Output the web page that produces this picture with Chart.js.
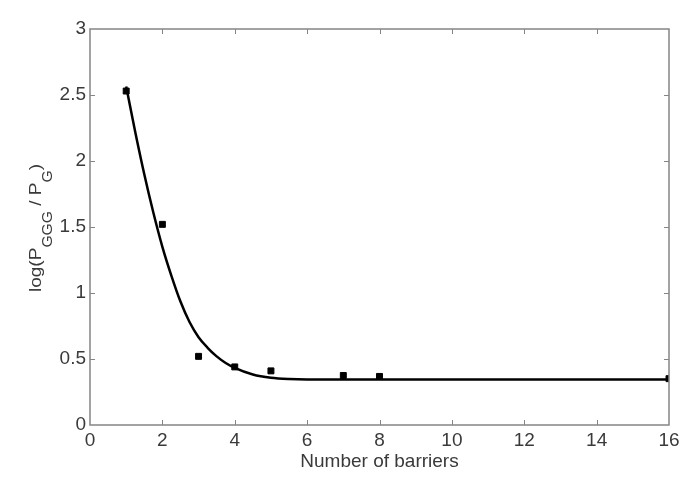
<!DOCTYPE html>
<html>
  <head>
    <script src="https://cdn.jsdelivr.net/npm/chart.js@4.4.1/dist/chart.umd.min.js"></script>
    <style>
      html, body { margin: 0; padding: 0; background: #ffffff; }
      .chart-container { width: 694px; height: 481px; }
    </style>
  </head>
  <body>
    <div class="chart-container">
      <canvas id="myChart" width="694" height="481"></canvas>
    </div>
    <script>
      // measured points (square markers)
      var barrierCounts = [1, 2, 3, 4, 5, 7, 8, 16];
      var measuredLog = [2.53, 1.52, 0.52, 0.44, 0.41, 0.375, 0.368, 0.351];

      // fitted curve
      var fitX = [1, 1.25, 1.5, 1.75, 2, 2.25, 2.5, 2.75, 3, 3.25, 3.5, 3.75, 4, 4.5, 5, 5.5, 6, 8, 10, 12, 14, 16];
      var fitY = [2.565, 2.22, 1.9, 1.61, 1.35, 1.13, 0.935, 0.78, 0.665, 0.585, 0.52, 0.47, 0.433, 0.383, 0.358, 0.348, 0.345, 0.345, 0.345, 0.345, 0.345, 0.345];

      // tick labels
      var xTicks = [0, 2, 4, 6, 8, 10, 12, 14, 16];
      var yTicks = [0, 0.5, 1, 1.5, 2, 2.5, 3];

      var axisColor = "#858585";
      var textColor = "#3a3a3a";
      var fontFamily = "'Liberation Sans', Arial, sans-serif";

      function toPoints(xs, ys) {
        var pts = [];
        for (var i = 0; i < xs.length; i++) pts.push({ x: xs[i], y: ys[i] });
        return pts;
      }

      // box around the plot + inward ticks + y label with subscripts
      var boxPlugin = {
        id: "boxPlugin",
        afterDraw: function (chart) {
          var ctx = chart.ctx;
          var a = chart.chartArea;
          var xs = chart.scales.x;
          var ys = chart.scales.y;
          ctx.save();
          ctx.strokeStyle = axisColor;
          ctx.lineWidth = 1.5;
          ctx.strokeRect(a.left, a.top, a.right - a.left, a.bottom - a.top);
          ctx.lineWidth = 1;
          var len = 5;
          ctx.beginPath();
          xTicks.forEach(function (v) {
            var px = Math.round(xs.getPixelForValue(v)) + 0.5;
            if (v === xTicks[0] || v === xTicks[xTicks.length - 1]) return;
            ctx.moveTo(px, a.bottom); ctx.lineTo(px, a.bottom - len);
            ctx.moveTo(px, a.top); ctx.lineTo(px, a.top + len);
          });
          yTicks.forEach(function (v) {
            var py = Math.round(ys.getPixelForValue(v)) + 0.5;
            if (v === yTicks[0] || v === yTicks[yTicks.length - 1]) return;
            ctx.moveTo(a.left, py); ctx.lineTo(a.left + len, py);
            ctx.moveTo(a.right, py); ctx.lineTo(a.right - len, py);
          });
          ctx.stroke();

          // y axis label: log(P_GGG / P_G)
          var parts = [
            { t: "log(P", sub: false },
            { t: "GGG", sub: true },
            { t: " / P", sub: false },
            { t: "G", sub: true },
            { t: ")", sub: false }
          ];
          var big = "17px " + fontFamily;
          var small = "14px " + fontFamily;
          var total = 0;
          parts.forEach(function (p) {
            ctx.font = p.sub ? small : big;
            p.w = ctx.measureText(p.t).width;
            total += p.w;
          });
          ctx.translate(36, (a.top + a.bottom) / 2 + 1);
          ctx.rotate(-Math.PI / 2);
          ctx.scale(1.12, 1);
          ctx.fillStyle = textColor;
          ctx.textBaseline = "alphabetic";
          ctx.textAlign = "left";
          var cx = -total / 2;
          parts.forEach(function (p) {
            ctx.font = p.sub ? small : big;
            ctx.fillText(p.t, cx, p.sub ? 16 : 5);
            cx += p.w;
          });
          ctx.restore();
        }
      };

      var ctx = document.getElementById("myChart").getContext("2d");
      var chart = new Chart(ctx, {
        type: "scatter",
        data: {
          datasets: [
            {
              label: "Fit",
              data: toPoints(fitX, fitY),
              showLine: true,
              borderColor: "#000000",
              borderWidth: 2.5,
              pointRadius: 0,
              cubicInterpolationMode: "monotone",
              fill: false,
              order: 2
            },
            {
              label: "Measured",
              data: toPoints(barrierCounts, measuredLog),
              showLine: false,
              pointStyle: "rect",
              pointRadius: 4.2,
              borderWidth: 1,
              borderColor: "#000000",
              backgroundColor: "#000000",
              order: 1
            }
          ]
        },
        options: {
          responsive: false,
          animation: false,
          layout: { padding: { left: 0, top: 29, right: 25, bottom: 8 } },
          plugins: {
            legend: { display: false },
            tooltip: { enabled: false }
          },
          scales: {
            x: {
              type: "linear",
              min: 0,
              max: 16,
              afterBuildTicks: function (s) {
                s.ticks = xTicks.map(function (v) { return { value: v }; });
              },
              afterFit: function (s) { s.height = 48; },
              grid: { display: false, drawTicks: false },
              border: { display: false },
              ticks: {
                color: textColor,
                font: { family: fontFamily, size: 19 },
                padding: 4,
                maxRotation: 0,
                autoSkip: false,
                callback: function (v) { return String(v); }
              },
              title: {
                display: true,
                text: "Number of barriers",
                color: textColor,
                font: { family: fontFamily, size: 19 },
                padding: { top: 0, bottom: 0 }
              }
            },
            y: {
              type: "linear",
              min: 0,
              max: 3,
              afterBuildTicks: function (s) {
                s.ticks = yTicks.map(function (v) { return { value: v }; });
              },
              afterFit: function (s) { s.width = 90; },
              grid: { display: false, drawTicks: false },
              border: { display: false },
              ticks: {
                color: textColor,
                font: { family: fontFamily, size: 19 },
                padding: 4,
                autoSkip: false,
                callback: function (v) { return String(v); }
              }
            }
          }
        },
        plugins: [boxPlugin]
      });
    </script>
  </body>
</html>
